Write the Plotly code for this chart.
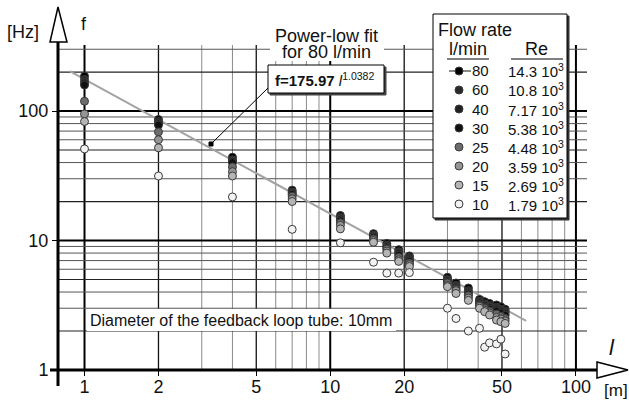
import math
import plotly.graph_objects as go

# ---------------- data ----------------
flow_rates = [80, 60, 40, 30, 25, 20, 15, 10]
re_values = ["14.3", "10.8", "7.17", "5.38", "4.48", "3.59", "2.69", "1.79"]
series_colors = ["#000000", "#2a2a2a", "#222222", "#111111", "#6c6c6c", "#959595", "#b4b4b4", "#f2f2f2"]

length_m = [1, 2, 4, 7, 11, 15, 17, 19, 21, 30, 32.5, 36.5, 40.5, 42.5, 44.5, 47.5, 49.5, 51.5]
f_80 = [186, 86, 44, 24.5, 15.6, 11.3, 9.5, 8.5, 7.6, 5.2, 4.7, 4.3, 3.5, 3.37, 3.27, 3.18, 3.08, 2.95]
f_60 = [175, 83, 42, 23.7, 15.1, 11.0, 9.2, 8.2, 7.4, 5.0, 4.5, 4.1, 3.4, 3.25, 3.15, 3.05, 2.95, 2.85]
f_40 = [166, 80, 41, 23.2, 14.6, 10.8, 9.0, 8.0, 7.1, 4.9, 4.4, 3.95, 3.3, 3.15, 3.05, 2.95, 2.85, 2.75]
f_30 = [159, 78, 40, 22.7, 14.2, 10.6, 8.8, 7.7, 6.9, 4.8, 4.3, 3.85, 3.2, 3.05, 2.95, 2.85, 2.75, 2.65]
f_25 = [119, 69, 37, 22, 13.7, 10.3, 8.6, 7.4, 6.7, 4.7, 4.2, 3.75, 3.15, 3.0, 2.85, 2.7, 2.6, 2.5]
f_20 = [95, 60, 34, 21, 13.1, 10.0, 8.3, 7.1, 6.5, 4.5, 4.1, 3.6, 3.1, 2.9, 2.75, 2.55, 2.48, 2.4]
f_15 = [83, 52, 31.5, 20, 12.3, 9.7, 8.0, 6.9, 6.3, 4.4, 3.9, 3.45, 3.0, 2.82, 2.66, 2.43, 2.36, 2.29]
f_10 = [51, 31.5, 21.7, 12.2, 9.6, 6.8, 5.6, 5.6, 5.65, 3.0, 2.5, 2.0, 2.1, 1.5, 1.62, 1.59, 1.73, 1.33]
series_f = [f_80, f_60, f_40, f_30, f_25, f_20, f_15, f_10]

# power-law fit line for 80 l/min (end points)
fit_l = [0.87, 62.7]
fit_f = [203, 2.40]

x_ticks = [1, 2, 5, 10, 20, 50, 100]
y_ticks = [1, 10, 100]
x_grid = [2, 3, 4, 5, 6, 7, 8, 9, 1, 10, 20, 30, 40, 50, 60, 70, 80, 90, 100]
y_grid = [2, 3, 4, 5, 6, 7, 8, 9, 1, 10, 20, 30, 40, 50, 60, 70, 80, 90, 100, 200, 300]

FONT = "Liberation Sans, Arial, sans-serif"
W, H = 629, 401
L, R, T, B = 58, 42, 45, 31
PW, PH = W - L - R, H - T - B


def pp(xp, yp):
    return (xp - L) / PW, (H - B - yp) / PH


fig = go.Figure()

# fit line
fig.add_trace(go.Scatter(x=fit_l, y=fit_f, mode="lines",
                         line=dict(color="#a3a3a3", width=2), hoverinfo="skip"))

for fr, vals, col in zip(flow_rates, series_f, series_colors):
    fig.add_trace(go.Scatter(
        x=length_m, y=vals, mode="markers", name=f"{fr} l/min",
        marker=dict(size=8, color=col, line=dict(color="#3a3a3a", width=1)),
    ))

shapes = []
# grid lines
for v in x_grid:
    if v in (1, 10, 100):
        ln = dict(color="#000", width=2)
    elif v in (2, 5, 20, 50):
        ln = dict(color="#111", width=1.3)
    else:
        ln = dict(color="#8a8a8a", width=1)
    shapes.append(dict(type="line", xref="x", yref="paper", x0=v, x1=v, y0=0, y1=1.0,
                       line=ln, layer="below"))
for v in y_grid:
    if v in (1, 10, 100):
        ln = dict(color="#000", width=2)
    elif v in (2, 5, 20, 50, 200):
        ln = dict(color="#222", width=1.2)
    else:
        ln = dict(color="#555", width=1)
    shapes.append(dict(type="line", xref="paper", yref="y", x0=0, x1=1, y0=v, y1=v,
                       line=ln, layer="below"))


def pline(x0, y0, x1, y1, color="#000", width=1, layer="above"):
    a = pp(x0, y0)
    b = pp(x1, y1)
    shapes.append(dict(type="line", xref="paper", yref="paper", x0=a[0], y0=a[1],
                       x1=b[0], y1=b[1], line=dict(color=color, width=width), layer=layer))


def prect(x0, y0, x1, y1, fill="#fff", color="#000", width=1):
    a = pp(x0, y0)
    b = pp(x1, y1)
    shapes.append(dict(type="rect", xref="paper", yref="paper", x0=a[0], y0=b[1],
                       x1=b[0], y1=a[1], fillcolor=fill, line=dict(color=color, width=width),
                       layer="above"))


def ppath(points, fill="#fff", color="#000", width=1.5):
    d = ""
    for i, (xp, yp) in enumerate(points):
        a = pp(xp, yp)
        d += ("M" if i == 0 else "L") + f"{a[0]:.5f},{a[1]:.5f} "
    d += "Z"
    shapes.append(dict(type="path", xref="paper", yref="paper", path=d,
                       fillcolor=fill, line=dict(color=color, width=width), layer="above"))


# axes lines and arrows
pline(58, 42, 58, 386, width=3)
pline(50, 370, 598, 370, width=3)
ppath([(58, 7), (50, 42), (67, 42)])
ppath([(628, 370), (597, 362), (597, 378)])

# white backing behind the fit title
prect(270, 27, 384, 61, fill="#fff", color="rgba(0,0,0,0)", width=0)

# formula box with shadow and leader
prect(270, 67, 386, 95, fill="#444", color="#444")
prect(268, 65, 384, 93)
pline(268, 88, 211, 144, width=1)
prect(209, 142, 213, 146, fill="#000", color="#000")

# white backing behind the diameter note
prect(87, 309, 396, 331, fill="#fff", color="rgba(0,0,0,0)", width=0)

# legend box
prect(435, 16, 569, 220, fill="#333", color="#333")
prect(433, 14, 567, 218)
pline(447, 59, 489, 59)
pline(511, 59, 563, 59)
row_y = [71, 90, 109, 128, 147, 166, 185, 204]
pline(449, row_y[0], 471, row_y[0], color="#8a8a8a", width=2)
for yv, col in zip(row_y, series_colors):
    a = pp(459, yv)
    shapes.append(dict(type="circle", xref="paper", yref="paper", xsizemode="pixel",
                       ysizemode="pixel", xanchor=a[0], yanchor=a[1], x0=-4, x1=4, y0=-4, y1=4,
                       fillcolor=col, line=dict(color="#3a3a3a", width=1), layer="above"))

annotations = []


def text(xp, yp, s, size=16, xanchor="center"):
    a = pp(xp, yp)
    annotations.append(dict(xref="paper", yref="paper", x=a[0], y=a[1], text=s, showarrow=False,
                            xanchor=xanchor, yanchor="middle",
                            font=dict(family=FONT, size=size, color="#111"), borderpad=0))


text(23, 32, "[Hz]", 18)
text(84, 24, "f", 18)
text(612, 347, "<i>l</i>", 22)
text(616, 391, "[m]", 17)
text(326, 36, "Power-low fit", 18)
text(326, 52, "for 80 l/min", 18)
text(274, 79, "<b>f=175.97</b> <i>l</i><sup>1.0382</sup>", 15, xanchor="left")
text(89, 320, "Diameter of the feedback loop tube: 10mm", 16, xanchor="left")
text(437, 30, "Flow rate", 18, xanchor="left")
text(468, 49, "l/min", 18)
text(536, 49, "Re", 18)
for yv, fr, re in zip(row_y, flow_rates, re_values):
    text(471, yv, str(fr), 15, xanchor="left")
    text(507, yv, f"{re} 10<sup>3</sup>", 15, xanchor="left")

fig.update_layout(
    width=W, height=H, autosize=False,
    margin=dict(l=L, r=R, t=T, b=B, pad=0, autoexpand=False),
    paper_bgcolor="#fff", plot_bgcolor="#fff",
    showlegend=False,
    font=dict(family=FONT, size=18, color="#111"),
    shapes=shapes, annotations=annotations,
    xaxis=dict(type="log", range=[math.log10(0.78), 2.045], tickvals=x_ticks,
               ticktext=[str(t) for t in x_ticks], showgrid=False, zeroline=False,
               showline=False, ticks="outside", ticklen=5, tickcolor="#000",
               automargin=False, ticklabelstandoff=-5,
               tickfont=dict(size=18, family=FONT, color="#111")),
    yaxis=dict(type="log", range=[0, 2.51], tickvals=y_ticks,
               ticktext=[str(t) for t in y_ticks], showgrid=False, zeroline=False,
               showline=False, ticks="outside", ticklen=5, tickcolor="#000",
               automargin=False,
               tickfont=dict(size=18, family=FONT, color="#111")),
)

fig.write_html("out.html")
